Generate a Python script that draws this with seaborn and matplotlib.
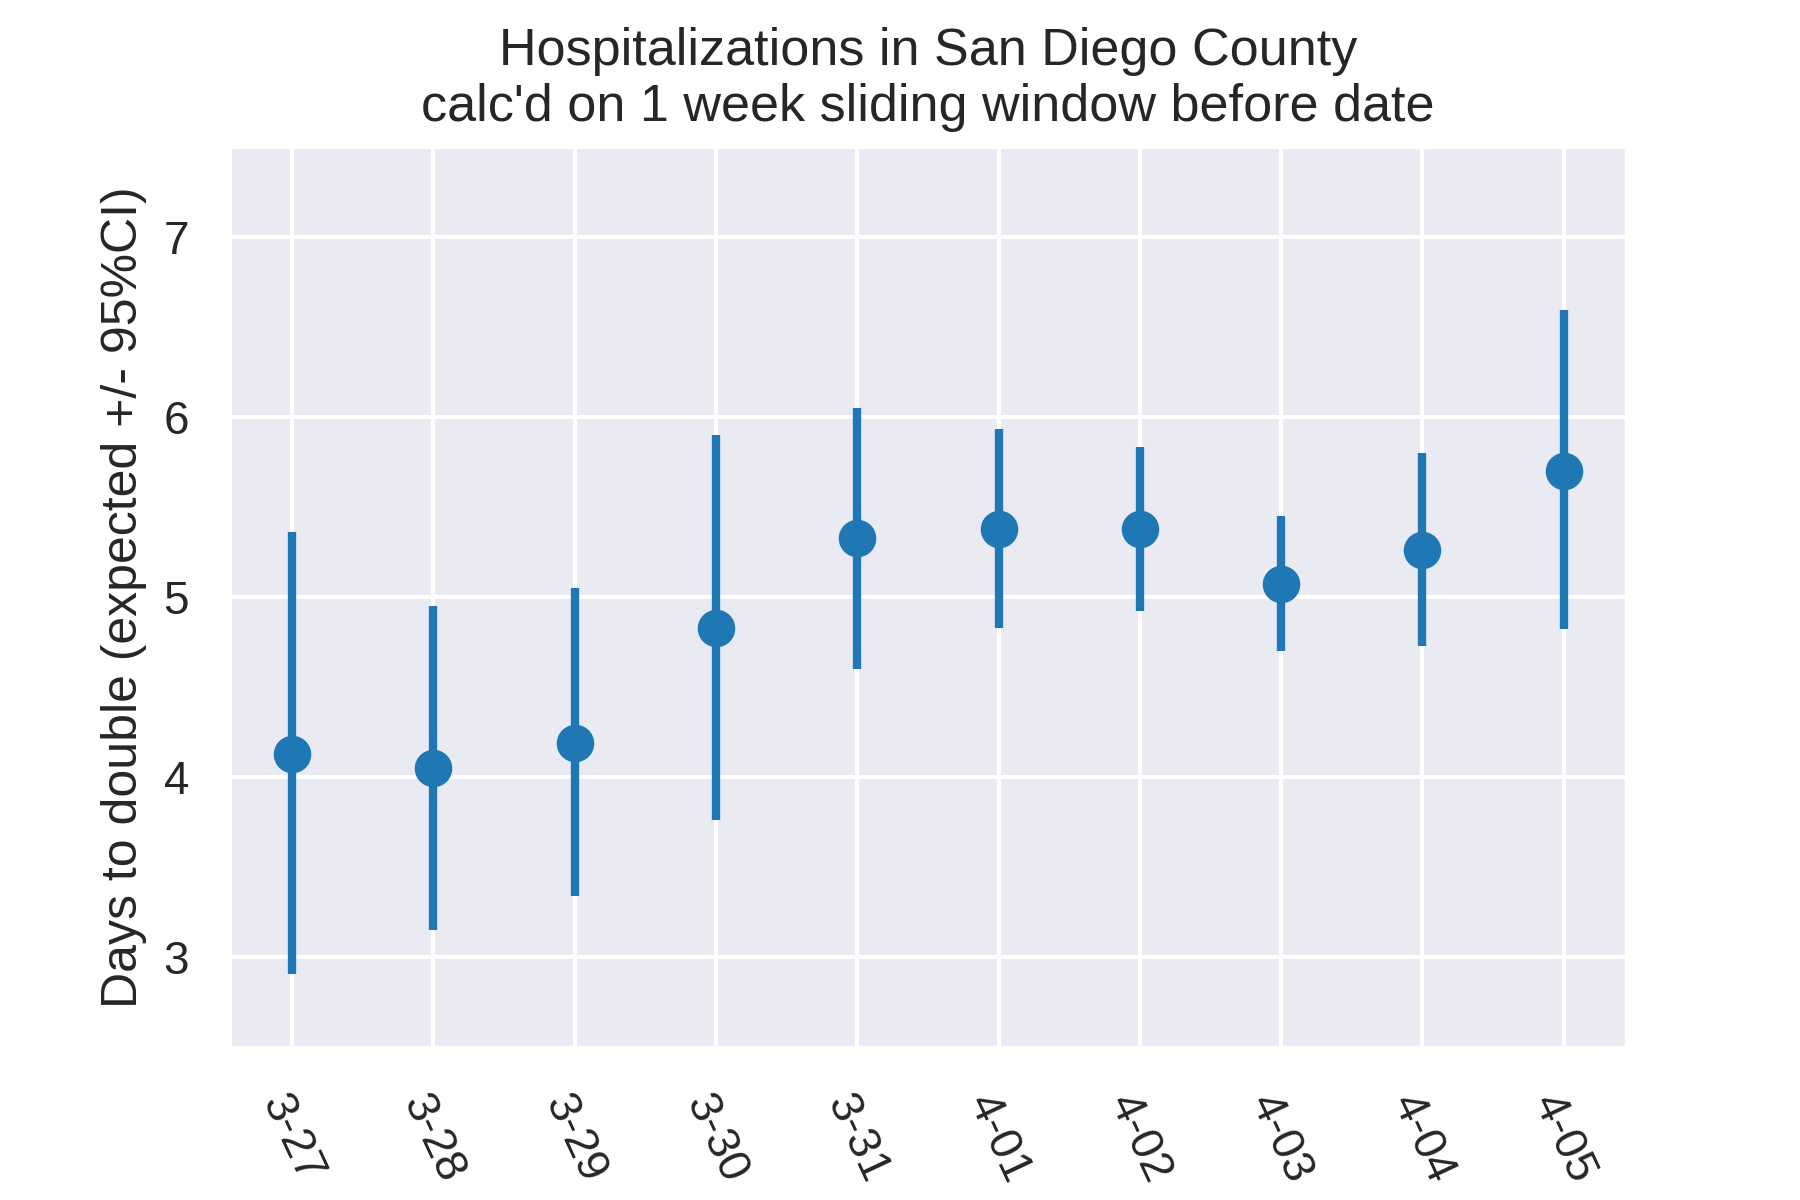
import matplotlib
matplotlib.use("Agg")
import matplotlib.pyplot as plt
import seaborn as sns
import numpy as np

dates = ["3-27", "3-28", "3-29", "3-30", "3-31", "4-01", "4-02", "4-03", "4-04", "4-05"]
expected = [4.13, 4.05, 4.19, 4.83, 5.33, 5.38, 5.38, 5.07, 5.26, 5.70]
ci_low = [2.91, 3.15, 3.34, 3.76, 4.60, 4.83, 4.92, 4.70, 4.73, 4.82]
ci_high = [5.36, 4.95, 5.05, 5.90, 6.05, 5.93, 5.83, 5.45, 5.80, 6.59]

sns.set_theme(style="darkgrid")
plt.rcParams['font.family'] = ['Liberation Sans', 'DejaVu Sans']

fig, ax = plt.subplots(figsize=(6, 4), dpi=300)
fig.subplots_adjust(left=0.127, right=0.904, top=0.878, bottom=0.127)

exp = np.array(expected)
yerr = [exp - np.array(ci_low), np.array(ci_high) - exp]
ax.errorbar(dates, expected, yerr=yerr, fmt="o", color="#1f77b4",
            markersize=8, elinewidth=2, capsize=0)

ax.set_ylim(2.5, 7.5)
ax.set_yticks([3, 4, 5, 6, 7])
ax.tick_params(labelsize=11)
ax.set_title("Hospitalizations in San Diego County\ncalc'd on 1 week sliding window before date", fontsize=12.5)
ax.set_ylabel("Days to double (expected +/- 95%CI)", fontsize=12)
ax.set_xlabel("Date", fontsize=12)
plt.setp(ax.get_xticklabels(), rotation=-65, ha="left", rotation_mode="anchor")

fig.savefig("out.png", dpi=300)
